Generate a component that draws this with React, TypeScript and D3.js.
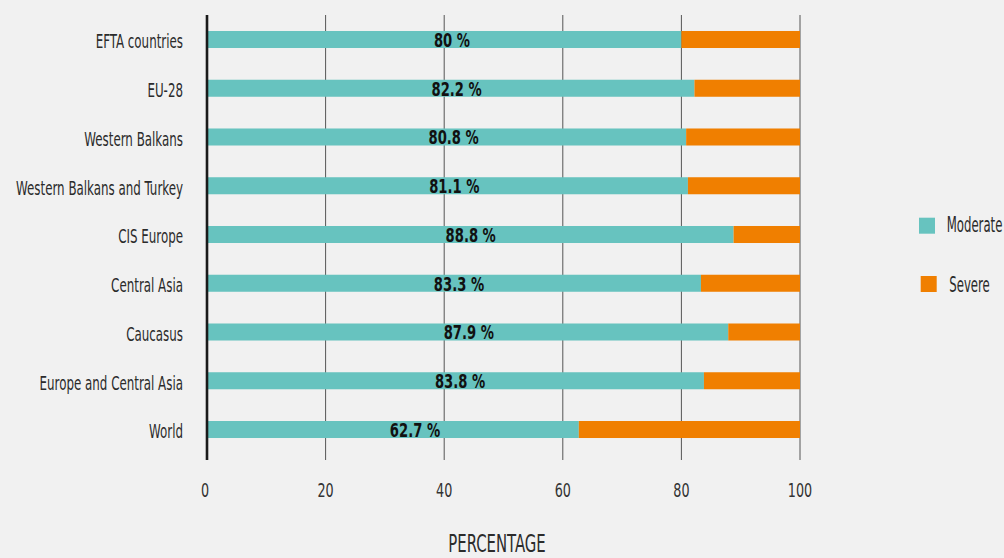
import React from "react";
import * as d3 from "d3";

const categories = [
  "EFTA countries",
  "EU-28",
  "Western Balkans",
  "Western Balkans and Turkey",
  "CIS Europe",
  "Central Asia",
  "Caucasus",
  "Europe and Central Asia",
  "World",
];
const moderate = [80, 82.2, 80.8, 81.1, 88.8, 83.3, 87.9, 83.8, 62.7];
const severe = [20, 17.8, 19.2, 18.9, 11.2, 16.7, 12.1, 16.2, 37.3];
const xTicks = [0, 20, 40, 60, 80, 100];
const seriesNames = ["Moderate", "Severe"];
const colors = ["#67c3bf", "#f07f00"];

const W = 1004;
const H = 558;
const FONT = "'DejaVu Sans Condensed', 'DejaVu Sans', sans-serif";

type CTProps = {
  x: number;
  y: number;
  size: number;
  sx: number;
  anchor?: "start" | "middle" | "end";
  fill?: string;
  weight?: string;
  children: React.ReactNode;
};

function CText({ x, y, size, sx, anchor = "start", fill = "#2b2b2b", weight = "normal", children }: CTProps) {
  return (
    <text
      transform={`translate(${x},${y}) scale(${sx},1)`}
      textAnchor={anchor}
      fontSize={size}
      fontWeight={weight}
      fill={fill}
    >
      {children}
    </text>
  );
}

export default function App() {
  const x = d3.scaleLinear().domain([0, 100]).range([207, 800]);
  const y = d3
    .scaleBand<string>()
    .domain(categories)
    .range([15, 454])
    .paddingInner(0.651)
    .paddingOuter(0.328);
  const bw = y.bandwidth();

  return (
    <svg
      width={W}
      height={H}
      style={{ position: "absolute", left: 0, top: 0, background: "#f1f1f1" }}
      fontFamily={FONT}
    >
      <rect x={0} y={0} width={W} height={H} fill="#f1f1f1" />
      {xTicks.slice(1).map((t) => (
        <line key={t} x1={x(t)} x2={x(t)} y1={15} y2={460} stroke="#555" strokeWidth={1} />
      ))}
      {categories.map((c, i) => {
        const top = y(c) as number;
        return (
          <g key={c}>
            <rect x={x(0)} y={top} width={x(moderate[i]) - x(0)} height={bw} fill={colors[0]} />
            <rect
              x={x(moderate[i])}
              y={top}
              width={x(moderate[i] + severe[i]) - x(moderate[i])}
              height={bw}
              fill={colors[1]}
            />
            <CText x={x(12.5 + 0.36 * moderate[i])} y={top + 16} size={19} sx={0.77} anchor="middle" weight="bold" fill="#111">
              {moderate[i]} %
            </CText>
            <CText x={183} y={top + 17.5} size={20} sx={0.66} anchor="end">
              {c}
            </CText>
          </g>
        );
      })}
      <line x1={x(0)} x2={x(0)} y1={15} y2={460} stroke="#1a1a1a" strokeWidth={2.6} />
      {xTicks.map((t) => (
        <CText key={t} x={x(t) - (t === 0 ? 2 : 0)} y={496.5} size={20} sx={0.71} anchor="middle" fill="#333">
          {t}
        </CText>
      ))}
      <CText x={497} y={552} size={24} sx={0.69} anchor="middle">
        PERCENTAGE
      </CText>
      {seriesNames.map((s, i) => (
        <g key={s}>
          <rect x={919 + i * 1.7} y={217.7 + i * 58.3} width={16} height={16} fill={colors[i]} />
          <CText x={946.7 + i * 2.6} y={232.3 + i * 59.4} size={21} sx={0.62}>
            {s}
          </CText>
        </g>
      ))}
    </svg>
  );
}
